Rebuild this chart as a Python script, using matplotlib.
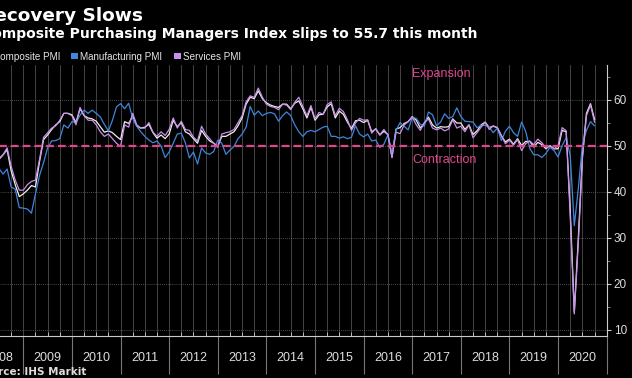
import numpy as np
import pandas as pd
import matplotlib
matplotlib.use('Agg')
import matplotlib.pyplot as plt
import matplotlib.patches as patches
from matplotlib.ticker import MultipleLocator, FixedLocator, NullFormatter

plt.rcParams['font.family'] = ['Liberation Sans', 'DejaVu Sans']

# UK PMI, monthly, Jun 2008 .. Sep 2020
start_month = '2008-06'

composite = [
    47.0, 48.0, 49.1, 44.5, 41.5, 38.9, 39.5,                          # 2008
    40.3, 41.3, 41.0, 46.5, 51.3, 52.3, 53.5, 54.5, 55.2, 57.0, 57.0, 56.7,  # 2009
    55.0, 58.0, 56.5, 56.0, 55.8, 55.3, 54.1, 52.9, 53.2, 52.8, 52.0, 51.3,  # 2010
    55.2, 54.8, 56.4, 54.2, 53.8, 54.0, 54.6, 52.8, 51.6, 52.3, 51.5, 52.5,  # 2011
    55.5, 54.1, 55.0, 53.0, 52.5, 51.5, 50.5, 53.3, 52.0, 51.0, 50.5, 49.9,  # 2012
    52.0, 52.0, 52.5, 53.0, 54.3, 56.0, 59.0, 60.5, 60.2, 61.9, 60.2, 59.3,  # 2013
    58.8, 58.5, 58.3, 59.0, 59.0, 58.0, 59.2, 59.7, 58.0, 56.0, 58.3, 55.5,  # 2014
    56.7, 56.8, 58.4, 59.1, 56.0, 57.5, 56.8, 55.1, 53.7, 55.4, 55.5, 55.0,  # 2015
    55.5, 53.0, 53.6, 52.3, 53.1, 52.4, 47.5, 53.6, 53.9, 54.8, 55.2, 56.3,  # 2016
    55.5, 53.8, 54.9, 56.2, 54.5, 53.8, 54.1, 54.0, 54.1, 55.8, 54.9, 54.9,  # 2017
    53.5, 54.5, 52.4, 53.2, 54.5, 55.1, 53.9, 54.2, 53.9, 52.1, 50.8, 51.4,  # 2018
    50.3, 51.5, 50.0, 50.9, 50.9, 49.7, 50.7, 50.2, 49.3, 50.0, 49.3, 49.3,  # 2019
    53.3, 53.0, 36.0, 13.8, 30.0, 47.7, 57.0, 59.1, 55.7,                    # 2020
]

manufacturing = [
    45.0, 43.8, 44.9, 41.0, 40.5, 36.5, 36.4,
    36.2, 35.3, 39.5, 43.5, 46.3, 49.5, 51.0, 51.1, 51.5, 54.5, 53.8, 55.2,
    55.0, 56.6, 57.7, 57.0, 57.7, 57.0, 56.2, 54.6, 53.2, 55.5, 58.4, 59.1,
    58.0, 59.2, 55.9, 54.2, 53.0, 52.0, 51.2, 50.6, 51.0, 49.9, 47.4, 48.6,
    50.5, 52.5, 52.7, 50.6, 47.3, 48.6, 46.0, 49.5, 48.4, 48.1, 48.7, 51.2,
    50.5, 48.1, 49.0, 49.8, 51.5, 52.5, 54.0, 58.5, 56.6, 57.5, 56.5, 57.0,
    57.2, 56.9, 55.3, 56.5, 57.3, 56.5, 54.5, 53.0, 52.0, 53.0, 53.3, 53.0,
    53.5, 54.0, 54.2, 52.0, 52.0, 51.6, 51.9, 51.5, 51.8, 54.3, 52.5, 51.9,
    52.5, 51.0, 51.2, 49.6, 50.3, 52.3, 48.3, 53.3, 55.0, 54.2, 53.4, 56.1,
    55.9, 54.6, 54.2, 57.3, 56.7, 54.3, 55.1, 56.9, 55.9, 56.3, 58.2, 56.3,
    55.3, 55.2, 55.1, 53.9, 54.4, 54.4, 54.0, 52.8, 53.8, 51.1, 53.1, 54.2,
    52.8, 52.0, 55.1, 53.1, 49.4, 48.0, 48.0, 47.4, 48.3, 49.6, 48.9, 47.5,
    50.0, 51.7, 47.8, 32.6, 40.7, 50.1, 53.3, 55.2, 54.3,
]

services = [
    47.2, 48.0, 49.5, 45.5, 42.5, 40.3, 40.3,
    41.5, 42.2, 42.5, 47.0, 51.8, 52.8, 53.8, 54.3, 55.5, 57.0, 57.0, 56.5,
    54.5, 58.3, 56.5, 55.5, 55.5, 54.5, 53.0, 52.0, 52.5, 51.5, 50.5, 49.8,
    54.5, 54.0, 57.0, 54.5, 53.8, 53.8, 55.0, 52.9, 52.0, 53.0, 52.2, 53.5,
    56.0, 53.8, 55.3, 53.5, 53.3, 51.8, 51.0, 54.2, 52.5, 51.5, 50.5, 49.6,
    52.5, 52.8, 53.0, 53.5, 55.0, 56.5, 59.5, 60.8, 60.5, 62.5, 60.5, 59.0,
    58.5, 58.3, 57.8, 59.0, 58.8, 57.8, 59.4, 60.5, 58.5, 56.5, 58.7, 55.8,
    57.2, 56.8, 58.9, 59.5, 56.5, 58.1, 57.4, 55.6, 53.3, 54.9, 55.9, 55.5,
    55.6, 52.7, 53.7, 52.3, 53.5, 52.3, 47.4, 52.9, 52.6, 54.5, 55.2, 56.2,
    54.5, 53.3, 55.0, 55.8, 53.8, 53.4, 53.8, 53.2, 53.6, 55.6, 53.8, 54.2,
    53.0, 54.5, 51.7, 52.8, 54.0, 55.1, 53.5, 54.3, 53.9, 52.2, 50.4, 51.2,
    50.1, 51.3, 48.9, 50.4, 51.0, 50.2, 51.4, 50.6, 49.5, 50.0, 49.3, 50.0,
    53.9, 53.2, 34.5, 13.4, 29.0, 47.1, 56.5, 58.8, 55.1,
]

years = list(range(2008, 2021))
series_names = ['Composite PMI', 'Manufacturing PMI', 'Services PMI']
series_colors = ['#f2efe8', '#3f86dc', '#c890ea']
pink = '#e0468c'

months = pd.period_range(start_month, periods=len(composite), freq='M')
xs = np.asarray(months.year + months.month / 12.0, dtype=float)  # end of month

W, H = 632, 378


def fx(px):
    return px / W


def fy(py):
    return 1 - py / H


fig = plt.figure(figsize=(W / 100, H / 100), dpi=100, facecolor='black')
ax = fig.add_axes([fx(-25.3), 42 / H, 632 / W, 271.4 / H])
ax.set_facecolor('black')

for vals, name, col in zip([composite, manufacturing, services], series_names, series_colors):
    ax.plot(xs, vals, color=col, lw=0.9, label=name, zorder=3)

ax.axhline(50, color=pink, lw=1.6, dashes=(3.5, 1.8), zorder=4)

ax.set_xlim(years[0], years[-1] + 1)
ax.set_ylim(8.6, 67.6)

# axes / ticks
ax.yaxis.tick_right()
ax.yaxis.set_major_locator(MultipleLocator(10))
ax.yaxis.set_minor_locator(MultipleLocator(5))
ax.xaxis.set_major_locator(FixedLocator(years + [years[-1] + 1]))
ax.xaxis.set_minor_locator(MultipleLocator(0.25))
ax.xaxis.set_major_formatter(NullFormatter())

ax.tick_params(axis='y', which='major', direction='out', length=3, width=0.8,
               color='#cccccc', labelcolor='#dddddd', labelsize=8.5, pad=2)
ax.tick_params(axis='y', which='minor', direction='out', length=2, width=0.6,
               color='#999999')
ax.tick_params(axis='x', which='major', direction='out', length=27, width=0.8,
               color='#777777')
ax.tick_params(axis='x', which='minor', direction='in', length=3, width=0.7,
               color='#bbbbbb')

ax.grid(axis='y', which='major', color='#666666', lw=0.6, ls=(0, (1, 1.5)))
ax.grid(axis='x', which='both', color='#4d4d4d', lw=0.6)

for side in ['top', 'left']:
    ax.spines[side].set_visible(False)
for side in ['bottom', 'right']:
    ax.spines[side].set_color('#cccccc')
    ax.spines[side].set_linewidth(0.8)

for yr in years:
    ax.text(yr + 0.5, -22 / 271.4, str(yr), transform=ax.get_xaxis_transform(),
            ha='center', va='center', fontsize=9, color='#dddddd')

ax.text(2017.0, 65.65, 'Expansion', color=pink, fontsize=9, ha='left', va='center')
ax.text(2017.0, 46.95, 'Contraction', color=pink, fontsize=9, ha='left', va='center')

# titles (left edge of the original is cropped)
fig.text(fx(143), fy(20.7), 'Recovery Slows', ha='right', va='baseline',
         fontsize=13.3, fontweight='bold', color='white', family='DejaVu Sans')
fig.text(fx(478), fy(38.3), 'Composite Purchasing Managers Index slips to 55.7 this month',
         ha='right', va='baseline', fontsize=10, fontweight='bold', color='white',
         family='DejaVu Sans')
fig.text(fx(86), fy(375), 'Source: IHS Markit', ha='right', va='baseline',
         fontsize=7.5, fontweight='bold', color='#dddddd', family='DejaVu Sans')

# legend row
renderer = fig.canvas.get_renderer()
leg_y = fy(59.5)
t0 = fig.text(fx(60), leg_y, series_names[0], ha='right', va='baseline',
              fontsize=7.1, color='#e6e6e6')
t1 = fig.text(fx(80), leg_y, series_names[1], ha='left', va='baseline',
              fontsize=7.1, color='#e6e6e6')
t2 = fig.text(fx(183), leg_y, series_names[2], ha='left', va='baseline',
              fontsize=7.1, color='#e6e6e6')
sq = 6.5
for t, col in zip([t0, t1, t2], series_colors):
    left = t.get_window_extent(renderer).x0
    rect = patches.Rectangle(((left - 2.5 - sq) / W, fy(56 + sq / 2)), sq / W, sq / H,
                             transform=fig.transFigure, facecolor=col, edgecolor='none')
    fig.patches.append(rect)

fig.savefig('out.png', dpi=100, facecolor='black')
